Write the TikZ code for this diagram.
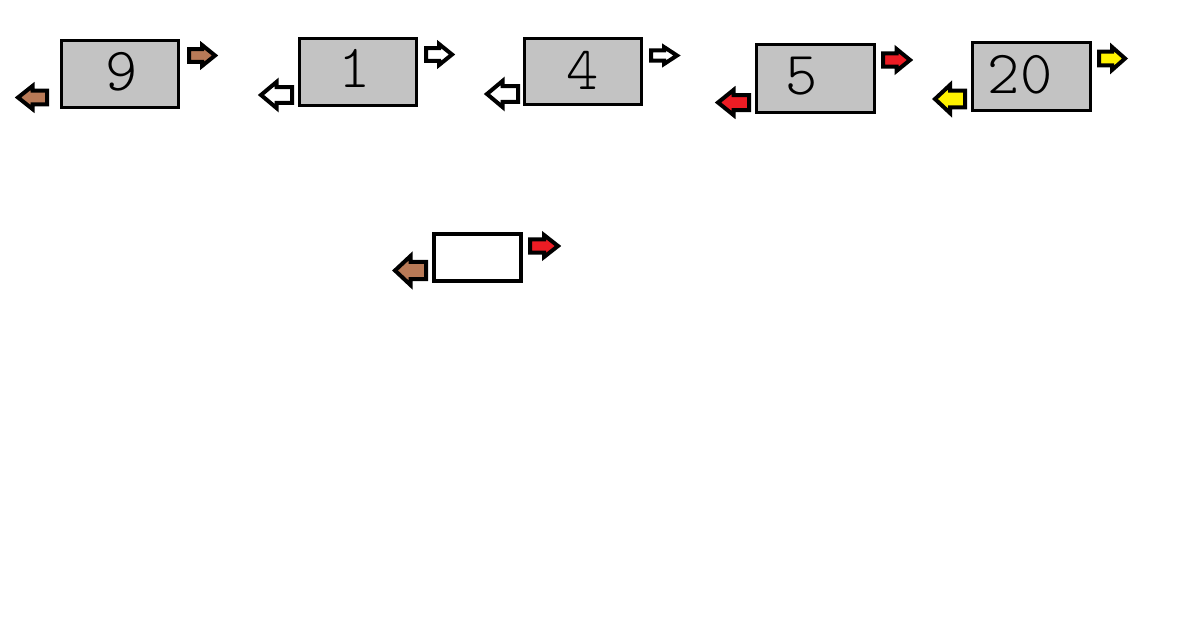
\documentclass[tikz,border=0pt]{standalone}
\usepackage{fontspec}
\newfontfamily\thinfont{lmmonolt10-regular.otf}
\definecolor{boxgray}{HTML}{C3C3C3}
\definecolor{pbrown}{HTML}{B97A57}
\definecolor{pred}{HTML}{ED1C24}
\definecolor{pyellow}{HTML}{FFF200}
\tikzset{
  box/.style={draw=black, line width=2.4pt, fill=boxgray, inner sep=0pt},
  emptybox/.style={draw=black, line width=3pt, fill=white, inner sep=0pt},
  arr/.style={draw=black, line width=3pt, line join=miter},
  digit/.style={font=\thinfont\fontsize{46}{46}\selectfont, text=black, inner sep=0pt}
}
\newcommand\rarrow[5]{%
  \draw[arr, fill=#5]
    ({#1+2},{(#2+#4)/2-0.3*(#4-#2-4)}) --
    ({(#1+#3)/2},{(#2+#4)/2-0.3*(#4-#2-4)}) --
    ({(#1+#3)/2},{#2+2}) --
    ({#3-2},{(#2+#4)/2}) --
    ({(#1+#3)/2},{#4-2}) --
    ({(#1+#3)/2},{(#2+#4)/2+0.3*(#4-#2-4)}) --
    ({#1+2},{(#2+#4)/2+0.3*(#4-#2-4)}) -- cycle;}
\newcommand\larrow[5]{%
  \draw[arr, fill=#5]
    ({#3-2},{(#2+#4)/2-0.3*(#4-#2-4)}) --
    ({(#1+#3)/2},{(#2+#4)/2-0.3*(#4-#2-4)}) --
    ({(#1+#3)/2},{#2+2}) --
    ({#1+2},{(#2+#4)/2}) --
    ({(#1+#3)/2},{#4-2}) --
    ({(#1+#3)/2},{(#2+#4)/2+0.3*(#4-#2-4)}) --
    ({#3-2},{(#2+#4)/2+0.3*(#4-#2-4)}) -- cycle;}
\begin{document}
\begin{tikzpicture}[x=0.75pt, y=-0.75pt]
\useasboundingbox[fill=white] (0,0) rectangle (1182,636);
% boxes
\node[box, minimum width=87.6pt, minimum height=50.1pt] (b1) at (120,74) {};
\node[box, minimum width=87.6pt, minimum height=50.1pt] (b2) at (358,72) {};
\node[box, minimum width=87.6pt, minimum height=49.35pt] (b3) at (583,71.5) {};
\node[box, minimum width=88.35pt, minimum height=50.85pt] (b4) at (815.5,78.5) {};
\node[box, minimum width=88.35pt, minimum height=50.85pt] (b5) at (1031.5,76.5) {};
\node[emptybox, minimum width=65.25pt, minimum height=35.25pt] (b6) at (477.5,257.5) {};
% digits
\node[digit] (d1) at (122,72) {9};
\node[digit] (d2) at (355,68) {1};
\node[digit] (d3) at (583,70) {4};
\node[digit] (d4) at (802,76) {5};
\node[digit] (d5) at (1020,75) {20};
% arrows
\rarrow{187}{43}{217}{68}{pbrown}
\larrow{16}{84}{49}{111}{pbrown}
\rarrow{424}{42}{454}{67}{white}
\larrow{259}{80}{294}{110}{white}
\rarrow{649}{45}{679}{66}{white}
\larrow{485}{79}{520}{109}{white}
\rarrow{881}{47}{912}{73}{pred}
\larrow{716}{88}{751}{117}{pred}
\rarrow{1097}{45}{1127}{72}{pyellow}
\larrow{933}{83}{967}{115}{pyellow}
\rarrow{528}{233}{560}{259}{pred}
\larrow{393}{254}{428}{287}{pbrown}
\end{tikzpicture}
\end{document}
